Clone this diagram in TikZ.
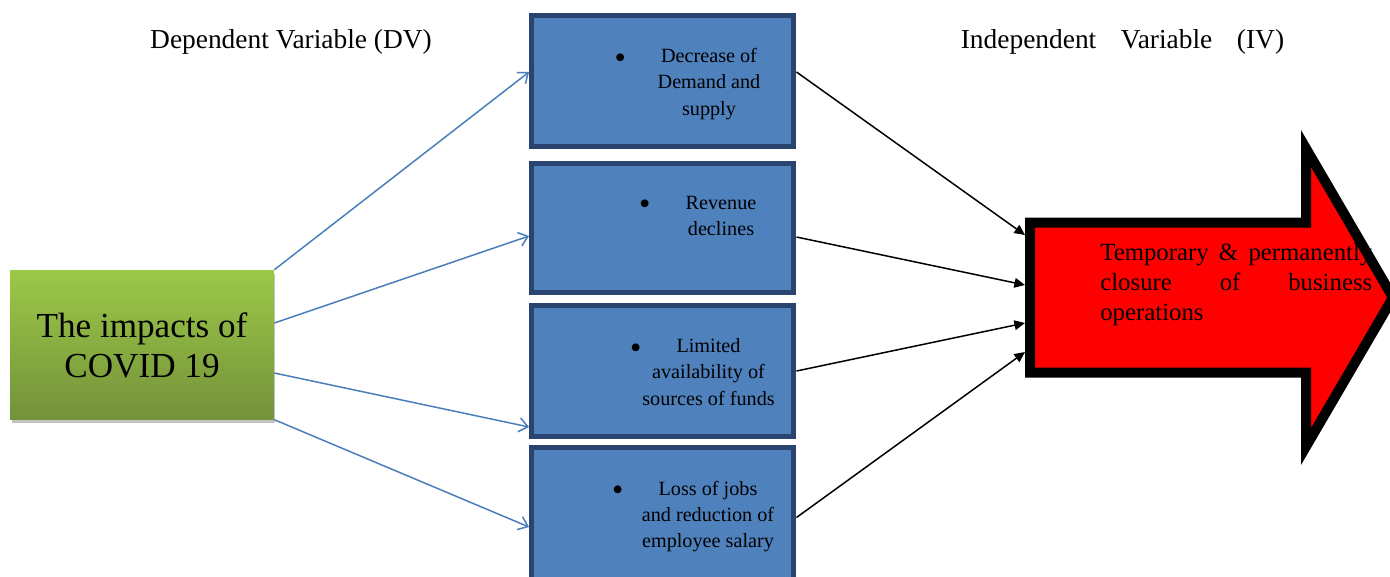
\documentclass[tikz,border=0pt]{standalone}
\usepackage{fontspec}
\setmainfont{Liberation Serif}
\usetikzlibrary{arrows.meta,shadows}

\definecolor{boxblue}{RGB}{79,129,189}
\definecolor{boxedge}{RGB}{41,68,110}
\definecolor{linkblue}{RGB}{74,126,187}
\definecolor{greentop}{RGB}{156,200,72}
\definecolor{greenbottom}{RGB}{116,146,58}

\newcommand{\listdot}{\llap{\raisebox{-3.2pt}{\scalebox{1.6}{\textbullet}}\hspace{20pt}}}

\begin{document}
\begin{tikzpicture}[x=0.02cm, y=-0.02cm,
  factor/.style={draw=boxedge, line width=0.1cm, fill=boxblue, minimum width=5.25cm, minimum height=2.63cm, inner sep=0pt},
  factortext/.style={align=center, font=\fontsize{11.5}{15}\selectfont, inner sep=0pt},
  impact/.style={draw=linkblue, line width=0.85pt, -{Straight Barb[length=5pt,width=8pt]}},
  effect/.style={draw=black, line width=0.85pt, -{Triangle[length=6pt,width=5.5pt]}}]
\useasboundingbox (0,0) rectangle (1390,576);
\clip (0,0) rectangle (1390,576);

% headings
\node (dvhead) at (291,42) {\fontsize{15.6}{18}\selectfont Dependent Variable (DV)};
\node (ivhead) at (1122.5,42) {\fontsize{15.6}{18}\selectfont\makebox[184pt][s]{Independent Variable (IV)}};

% source box
\node [minimum width=5.28cm, minimum height=2.986cm, inner sep=0pt, top color=greentop, bottom color=greenbottom,
  drop shadow={shadow xshift=0.03cm, shadow yshift=-0.08cm, fill=black!40, opacity=0.6}] (covid) at (142,344.7) {};
\node [align=center, font=\fontsize{20}{22.7}\selectfont, inner sep=0pt] (covidtext) at (142,345) {The impacts of\\COVID 19};

% factor boxes
\node [factor] (f1) at (662.75,80.75) {};
\node [factor, minimum height=2.59cm] (f2) at (662.75,228.25) {};
\node [factor, minimum height=2.62cm] (f3) at (662.75,371) {};
\node [factor, minimum height=2.8cm] (f4) at (662.75,517.5) {};
\node [factortext] (f1text) at (709,84) {\listdot Decrease of\\Demand and\\supply};
\node [factortext] (f2text) at (721,216) {\listdot Revenue\\declines};
\node [factortext] (f3text) at (708.5,372) {\listdot Limited\\availability of\\sources of funds};
\node [factortext] (f4text) at (708,516.5) {\listdot Loss of jobs\\and reduction of\\employee salary};

% outcome arrow
\fill [red] (1030,222.5) -- (1306,222.5) -- (1306,148.5) -- (1393,297.5) -- (1306,446.5) -- (1306,372.5) -- (1030,372.5) -- cycle;
\node [anchor=north west, text width=5.44cm, align=justify, inner sep=0pt,
  font=\fontsize{14.1}{17.2}\selectfont] (closure) at (1100,243)
  {Temporary \& \mbox{permanently} closure of business \mbox{operations}};
\draw [black, line width=0.2cm] (1030,222.5) -- (1306,222.5) -- (1306,148.5) -- (1393,297.5) -- (1306,446.5) -- (1306,372.5) -- (1030,372.5) -- cycle;
\coordinate (in1) at (1025,235);
\coordinate (in2) at (1025,285);
\coordinate (in3) at (1025,323);
\coordinate (in4) at (1025,352);

% connectors
\draw [impact] (covid.north east) -- ([yshift=0.175cm]f1.west);
\draw [impact] ([yshift=0.434cm]covid.east) -- ([yshift=-0.155cm]f2.west);
\draw [impact] ([yshift=-0.566cm]covid.east) -- ([yshift=-1.12cm]f3.west);
\draw [impact] (covid.south east) -- ([yshift=-0.19cm]f4.west);
\draw [effect] ([yshift=0.175cm]f1.east) -- (in1);
\draw [effect] ([yshift=-0.175cm]f2.east) -- (in2);
\draw [effect] (f3.east) -- (in3);
\draw [effect] (f4.east) -- (in4);
\end{tikzpicture}
\end{document}
